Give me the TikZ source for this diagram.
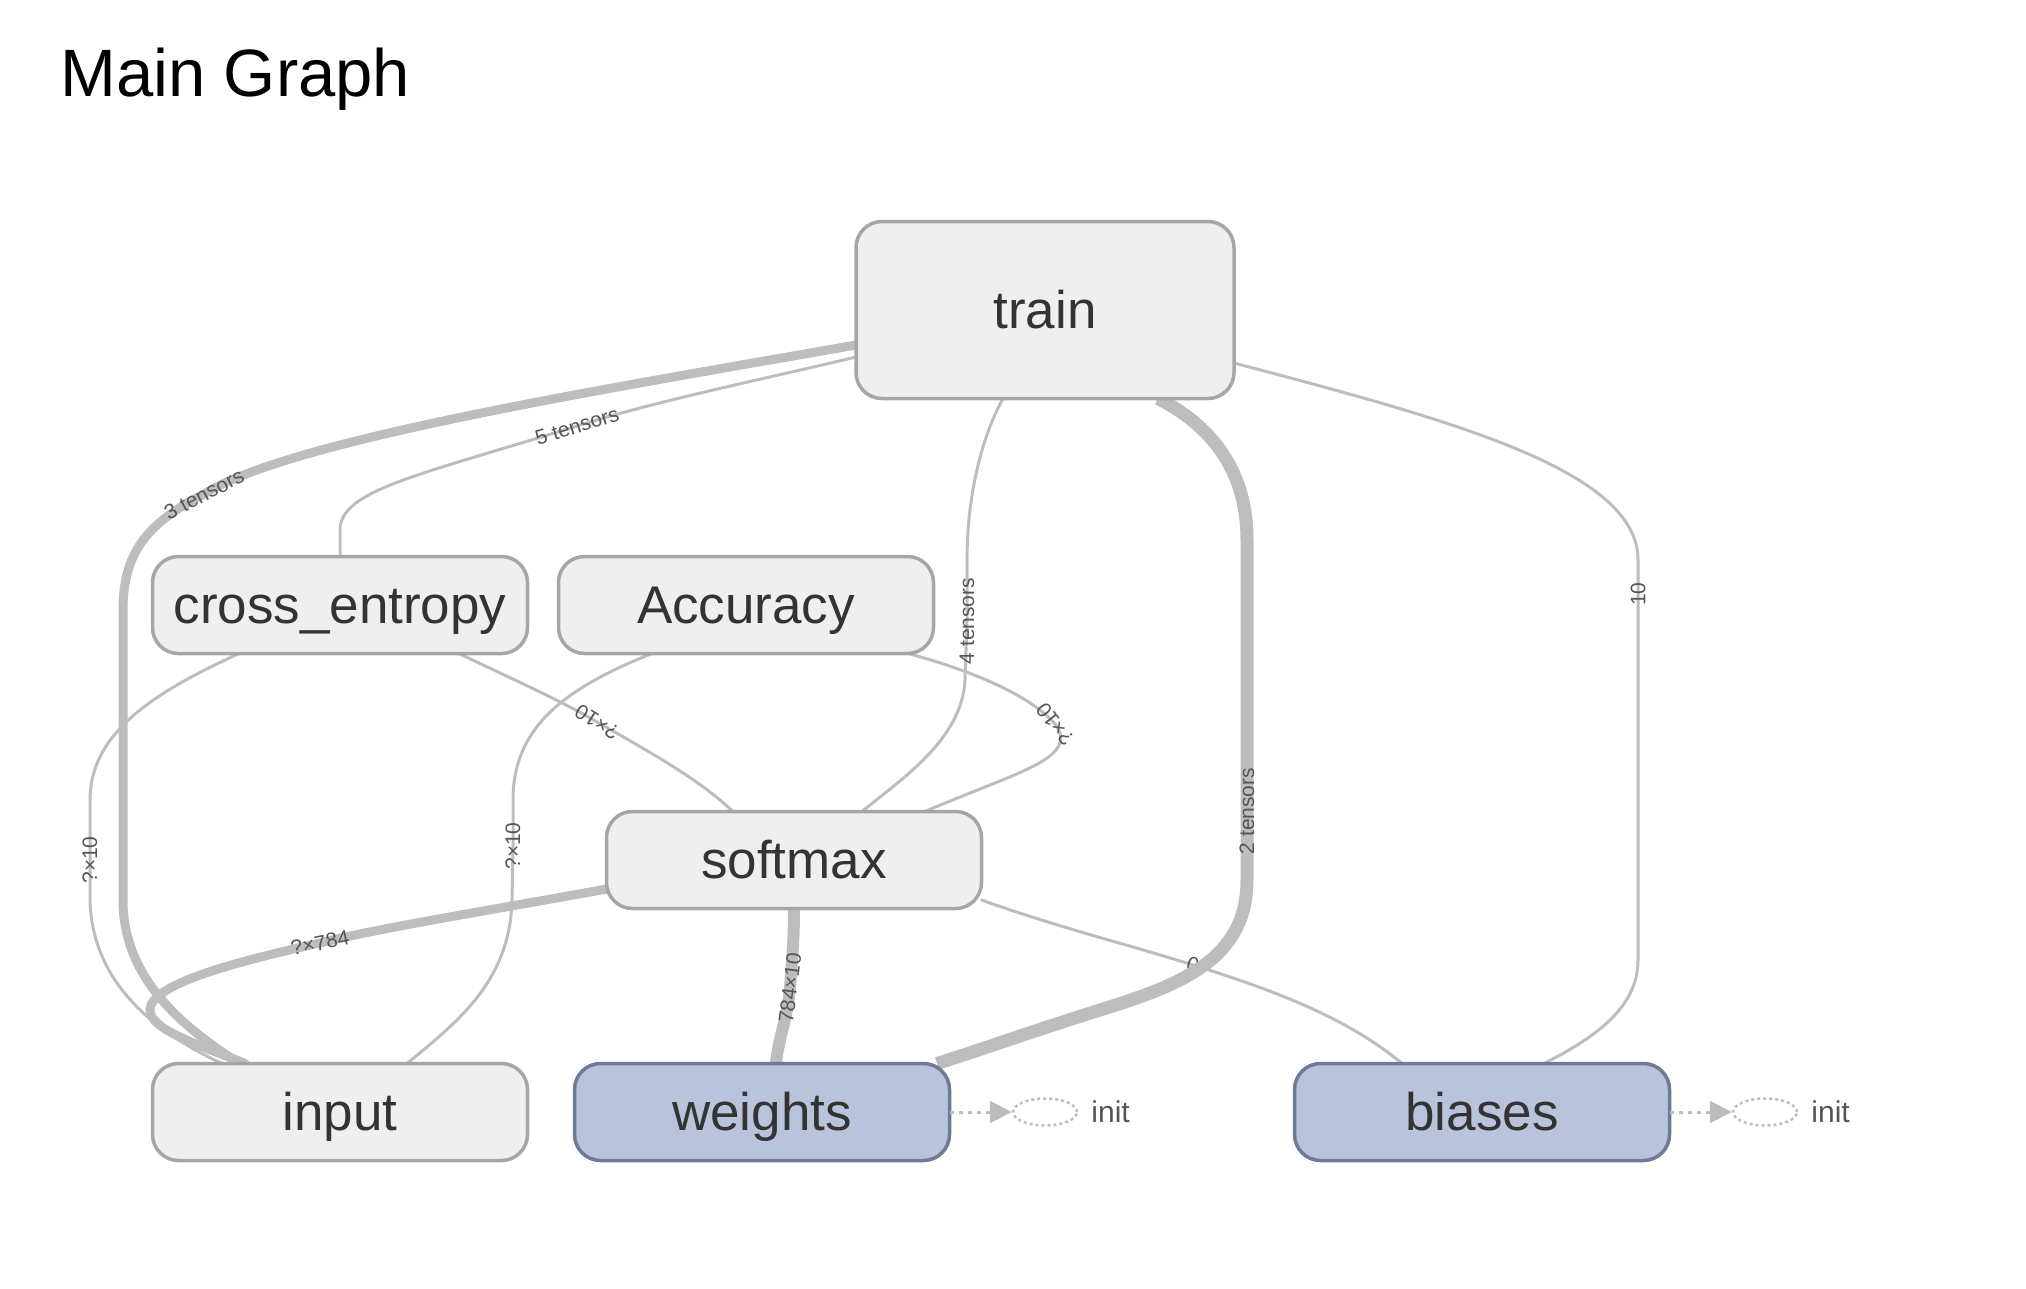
\documentclass[tikz,border=0pt]{standalone}
\usepackage{fontspec}
\setmainfont{Liberation Sans}
\usepackage{tikz}
\usetikzlibrary{arrows.meta,positioning,shapes.geometric,backgrounds}
\usepackage{xcolor}

\definecolor{edgegray}{HTML}{BDBDBD}
\definecolor{nodefill}{HTML}{EFEFEF}
\definecolor{nodeline}{HTML}{A6A6A6}
\definecolor{varfill}{HTML}{B9C3DC}
\definecolor{varline}{HTML}{6F7A93}
\definecolor{textgray}{HTML}{333333}
\definecolor{labelgray}{HTML}{555555}

\newcommand{\nodefont}{\fontsize{53}{60}\selectfont}
\newcommand{\labelfont}{\fontsize{21}{24}\selectfont}

\tikzset{
  opnode/.style={draw=nodeline, fill=nodefill, line width=3.5pt, rounded corners=26pt,
    minimum width=375pt, minimum height=97pt, outer sep=0pt, text=textgray, font=\nodefont,
    text height=36pt, text depth=0pt},
  varnode/.style={opnode, draw=varline, fill=varfill},
  edge/.style={draw=edgegray, line width=3pt, line cap=round},
  thickedge/.style={edge, line width=9pt},
  elabel/.style={inner sep=0pt, text=labelgray, font=\labelfont},
  initnode/.style={ellipse, draw=edgegray, dashed, line width=2.5pt, minimum width=64pt, minimum height=27pt, inner sep=0pt},
  initedge/.style={draw=edgegray, line width=3pt, dash pattern=on 4pt off 5pt, -{Triangle[length=22pt,width=22pt]}},
  inittext/.style={inner sep=0pt, text=labelgray, font=\fontsize{30}{34}\selectfont}
}

\begin{document}
\begin{tikzpicture}[x=1pt, y=-1pt]
    \useasboundingbox (0,0) rectangle (2026,1288);

    % Titulo
    \node[anchor=base west, inner sep=0pt, font=\fontsize{67}{74}\selectfont] (title) at (60,96) {Main Graph};

    % Nodos
    \node[opnode, minimum width=378pt, minimum height=177pt] (train) at (1045,310) {train};
    \node[opnode] (xent) at (340,605) {cross\_entropy};
    \node[opnode] (acc) at (746,605) {Accuracy};
    \node[opnode] (softmax) at (794,860) {softmax};
    \node[opnode] (input) at (340,1112) {input};
    \node[varnode] (weights) at (762,1112) {weights};
    \node[varnode] (biases) at (1482,1112) {biases};

    % Nodos init
    \node[initnode] (winit) at (1045,1112) {};
    \node[inittext, anchor=west, right=13pt of winit] (wtext) {init};
    \node[initnode] (binit) at (1765,1112) {};
    \node[inittext, anchor=west, right=13pt of binit] (btext) {init};

    % Aristas
    \begin{scope}[on background layer]
        \draw[edge] ([xshift=-101pt]xent.south) .. controls (160,690) and (90,730) .. (90,800)
            -- (90,860) node[elabel, rotate=90] (l1) {?×10}
            -- (90,900) .. controls (92,980) and (150,1030) .. ([xshift=-118pt]input.north);
        \draw[thickedge] ([yshift=-35pt]train.west) .. controls (600,390) and (290,440) .. (204,494)
            node[elabel, rotate=27] (l2) {3 tensors}
            .. controls (150,522) and (123,550) .. (123,610) -- (123,900)
            .. controls (123,970) and (170,1020) .. ([xshift=-100pt]input.north);
        \draw[edge] ([yshift=-47pt]train.west) .. controls (760,380) and (660,400) .. (577,426)
            node[elabel, rotate=17] (l3) {5 tensors}
            .. controls (420,475) and (340,490) .. (340,530) -- (xent.north);
        \draw[edge] ([xshift=-42pt]train.south) .. controls (980,440) and (967,500) .. (967,560)
            -- (967,621) node[elabel, rotate=90] (l4) {4 tensors}
            -- (965,680) .. controls (962,740) and (900,780) .. ([xshift=68pt]softmax.north);
        \draw[edge] ([xshift=119pt]xent.south) .. controls (510,678) and (560,700) .. (597,722)
            node[elabel, rotate=148] (l5) {?×10}
            .. controls (650,752) and (700,780) .. ([xshift=-61pt]softmax.north);
        \draw[edge] ([xshift=-94pt]acc.south) .. controls (560,690) and (513,730) .. (513,800)
            -- (513,846) node[elabel, rotate=90] (l6) {?×10}
            -- (512,900) .. controls (510,980) and (460,1020) .. ([xshift=67pt]input.north);
        \draw[edge] ([xshift=162pt]acc.south) .. controls (970,670) and (1030,695) .. (1055,724)
            node[elabel, rotate=128] (l7) {?×10}
            .. controls (1075,750) and (1040,765) .. (990,785)
            .. controls (960,797) and (940,805) .. ([xshift=131pt]softmax.north);
        \draw[thickedge] ([yshift=-29pt]softmax.west) .. controls (480,912) and (380,928) .. (320,943)
            node[elabel, rotate=11] (l8) {?×784}
            .. controls (230,963) and (150,985) .. (150,1010)
            .. controls (150,1030) and (200,1045) .. ([xshift=-95pt]input.north);
        \draw[thickedge, line width=12pt, line cap=butt] (softmax.south) .. controls (794,940) and (792,960) .. (790,988)
            node[elabel, rotate=83] (l9) {784×10}
            .. controls (787,1020) and (778,1040) .. ([xshift=14pt]weights.north);
        \draw[edge] ([yshift=-40pt]softmax.east) .. controls (1060,928) and (1130,945) .. (1193,965)
            node[elabel, rotate=163] (l10) {0}
            .. controls (1280,992) and (1350,1020) .. ([xshift=-80pt]biases.north);
        \draw[thickedge, line width=13pt, line cap=butt] ([xshift=113pt]train.south) .. controls (1200,420) and (1247,460) .. (1247,540)
            -- (1247,811) node[elabel, rotate=90] (l11) {2 tensors}
            -- (1247,880) .. controls (1247,960) and (1180,985) .. (1100,1010)
            .. controls (1030,1032) and (980,1050) .. ([xshift=175pt]weights.north);
        \draw[edge] ([yshift=-53pt]train.east) .. controls (1450,420) and (1638,470) .. (1638,560)
            -- (1638,594) node[elabel, rotate=90] (l12) {10}
            -- (1638,960) .. controls (1638,1010) and (1590,1040) .. ([xshift=62pt]biases.north);
    \end{scope}

    % Aristas init
    \draw[initedge] (weights.east) -- (winit.west);
    \draw[initedge] (biases.east) -- (binit.west);
\end{tikzpicture}
\end{document}
